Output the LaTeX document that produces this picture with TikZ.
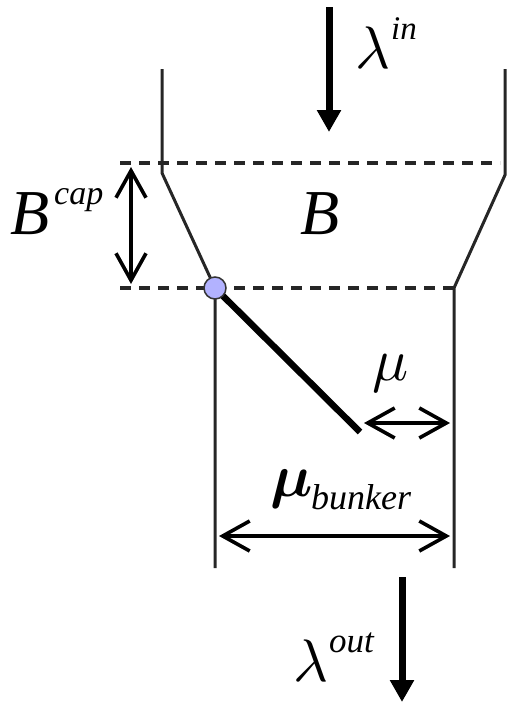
\documentclass[tikz,border=0pt]{standalone}
\usepackage{graphicx}
\usepackage{fontspec}
\setmainfont{Liberation Serif}
\usetikzlibrary{arrows.meta}
\tikzset{
  wall/.style={draw=black!85,line width=3pt},
  level/.style={draw=black!85,line width=3.6pt,dash pattern=on 10.5pt off 8.5pt},
  flowarrow/.style={draw=black,line width=7pt,-{Triangle[length=22pt,width=23pt]}},
  dimarrow/.style={draw=black,line width=3.6pt,{Straight Barb[length=27pt,width=30pt,line width=3.6pt]}-{Straight Barb[length=27pt,width=30pt,line width=3.6pt]}},
  flap/.style={draw=black,line width=6.5pt},
  pivotdot/.style={circle,draw=black!80,line width=1.5pt,fill=blue!30!white,minimum size=22pt,inner sep=0pt},
  lbl/.style={inner sep=0pt,anchor=base west},
}
\begin{document}
\begin{tikzpicture}[x=1pt,y=-1pt]
\useasboundingbox (0,0) rectangle (506,704);
\coordinate (lt) at (162,69);
\coordinate (ls) at (162,173);
\coordinate (rt) at (505,69);
\coordinate (rs) at (505,175);
\coordinate (pv) at (215,288);
\coordinate (rb) at (454,288);
\coordinate (lbot) at (215,568);
\coordinate (rbot) at (454,568);
\coordinate (d1a) at (120,163);
\coordinate (d1b) at (500,163);
\coordinate (d2a) at (120,288);
\coordinate (fe) at (360,432);
\coordinate (ina) at (329,7);
\coordinate (inb) at (329,132);
\coordinate (outa) at (402,577);
\coordinate (outb) at (402,702);
\coordinate (capa) at (131,167);
\coordinate (capb) at (131,284);
\coordinate (mua) at (364,423);
\coordinate (mub) at (450,423);
\coordinate (mba) at (219,536);
\coordinate (mbb) at (450,536);

\draw[wall,line join=miter] (lt) -- (ls) -- (pv) -- (lbot);
\draw[wall,line join=miter] (rt) -- (rs) -- (rb) -- (rbot);
\draw[level] (d1a) -- (d1b);
\draw[level] (d2a) -- (rb);
\draw[flap] (pv) -- (fe);
\node[pivotdot] (pivot) at (pv) {};
\draw[flowarrow] (ina) -- (inb);
\draw[flowarrow] (outa) -- (outb);
\draw[dimarrow] (capa) -- (capb);
\draw[dimarrow] (mua) -- (mub);
\draw[dimarrow] (mba) -- (mbb);

\node[lbl,font=\fontsize{64}{64}\selectfont\itshape] (B) at (300,234) {B};
\node[lbl,font=\fontsize{64}{64}\selectfont\itshape] (Bc) at (10,234) {B};
\node[lbl,font=\fontsize{34}{34}\selectfont\itshape] (cap) at (54,204) {cap};
\node[lbl] (li) at (355,68) {\scalebox{6}{$\lambda$}};
\node[lbl,font=\fontsize{33}{33}\selectfont\itshape] (in) at (391,39) {in};
\node[lbl] (lo) at (293,681) {\scalebox{6}{$\lambda$}};
\node[lbl,font=\fontsize{35}{35}\selectfont\itshape] (out) at (329,652) {out};
\node[lbl] (mu) at (372,380) {\scalebox{6}{$\mu$}};
\node[lbl,font=\boldmath] (mb) at (270,496) {\scalebox{6}{$\mu$}};
\node[lbl,font=\fontsize{36}{36}\selectfont\itshape] (bk) at (311,509) {bunker};
\end{tikzpicture}
\end{document}
